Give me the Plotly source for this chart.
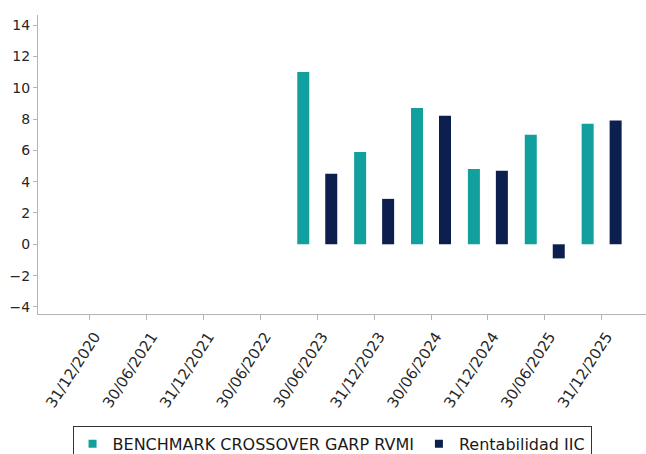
import plotly.graph_objects as go

categories = ["31/12/2020", "30/06/2021", "31/12/2021", "30/06/2022", "30/06/2023",
              "31/12/2023", "30/06/2024", "31/12/2024", "30/06/2025", "31/12/2025"]
benchmark = [None, None, None, None, 11.0, 5.9, 8.7, 4.8, 7.0, 7.7]
rentabilidad = [None, None, None, None, 4.5, 2.9, 8.2, 4.7, -0.9, 7.9]
series_names = ["BENCHMARK CROSSOVER GARP RVMI", "Rentabilidad IIC"]
y_ticks = [-4, -2, 0, 2, 4, 6, 8, 10, 12, 14]

TEAL = "#12a09e"
NAVY = "#0c1f4e"
FONT = "DejaVu Sans"

fig = go.Figure()
for name, vals, col in zip(series_names, [benchmark, rentabilidad], [TEAL, NAVY]):
    fig.add_trace(go.Bar(x=categories, y=vals, name=name, legendgroup=name, showlegend=False,
                         marker=dict(color=col, line=dict(width=0))))
# legend entries with small square keys, as in the reference
for name, col in zip(series_names, [TEAL, NAVY]):
    fig.add_trace(go.Scatter(x=[None], y=[None], mode="markers", name=name, legendgroup=name,
                             marker=dict(symbol="square", size=8, color=col), showlegend=True))

fig.update_layout(
    width=646, height=454,
    margin=dict(l=38, r=0, t=15, b=140, pad=0),
    paper_bgcolor="white", plot_bgcolor="white",
    barmode="group", bargap=0.016, bargroupgap=0.571,
    font=dict(family=FONT, color="#262626"),
    showlegend=True,
    legend=dict(orientation="h", xref="container", x=0.514, xanchor="center",
                yref="container", y=0.062, yanchor="top",
                bordercolor="#333333", borderwidth=1, bgcolor="white",
                font=dict(family=FONT, size=16, color="#1a1a1a"),
                itemwidth=30, tracegroupgap=0),
)
fig.update_xaxes(type="category", categoryorder="array", categoryarray=categories,
                 range=[-0.91, 9.78], showline=True, linecolor="#b4b4b4", linewidth=1,
                 ticks="outside", ticklen=5, tickcolor="#b4b4b4", tickangle=-57,
                 ticklabelshift=5, ticklabelstandoff=2,
                 tickfont=dict(family=FONT, size=15, color="#262626"),
                 showgrid=False, zeroline=False, fixedrange=True, automargin=False)
fig.update_yaxes(range=[-4.45, 14.64], tickvals=y_ticks, showline=True,
                 linecolor="#b4b4b4", linewidth=1, ticks="outside", ticklen=4,
                 tickcolor="#b4b4b4", tickfont=dict(family=FONT, size=14, color="#262626"),
                 showgrid=False, zeroline=False, fixedrange=True, automargin=False)

fig.write_html("out.html", config={"displayModeBar": False},
               post_script="document.body.style.margin='0';document.body.style.overflow='hidden';")
